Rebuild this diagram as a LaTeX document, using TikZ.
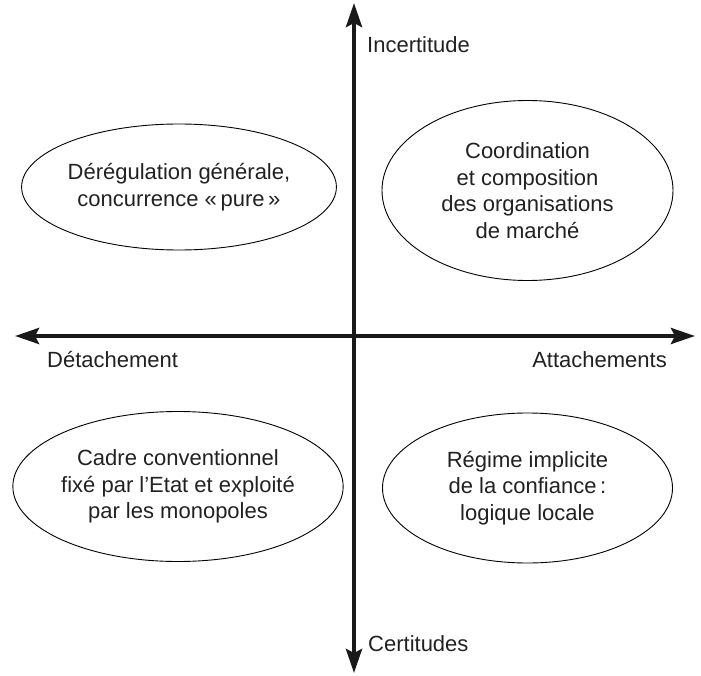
\documentclass[tikz,border=0pt]{standalone}
\usepackage{fontspec}
\setmainfont{Liberation Sans}
\usetikzlibrary{arrows.meta,shapes.geometric}
\begin{document}
\begin{tikzpicture}[x=1pt,y=-1pt,
  axis/.style={line width=4pt, color=black!90,
    {Stealth[length=24pt,width=16pt,inset=4pt]}-{Stealth[length=24pt,width=16pt,inset=4pt]}},
  zone/.style={draw, ellipse, line width=0.9pt, align=center, inner sep=0pt,
    font=\fontsize{22}{26.5}\selectfont, text=black!87},
  lbl/.style={inner sep=0pt, font=\fontsize{22}{26}\selectfont, text=black!87}]
\useasboundingbox (0,0) rectangle (701,676);
% axes
\coordinate (ytop) at (354,3);
\coordinate (ybot) at (354,673);
\coordinate (xleft) at (15,336);
\coordinate (xright) at (695,336);
\draw[axis] (ybot) -- (ytop);
\draw[axis] (xleft) -- (xright);
% axis labels
\node[lbl, anchor=base west] (incert) at (367,53) {Incertitude};
\node[lbl, anchor=base west] (cert) at (368,651) {Certitudes};
\node[lbl, anchor=base west] (detach) at (47,367) {Détachement};
\node[lbl, anchor=base east] (attach) at (667,367) {Attachements};
% zones
\node[zone, minimum width=292pt, minimum height=126pt] (tl) at (179,187)
  {Dérégulation générale,\\concurrence «\,pure\,»};
\node[zone, minimum width=291pt, minimum height=180pt] (tr) at (527.5,190.5)
  {Coordination\\et composition\\des organisations\\de marché};
\node[zone, minimum width=290pt, minimum height=150pt] (bl) at (178,486.5)
  {Cadre conventionnel\\fixé par l’Etat et exploité\\par les monopoles};
\node[zone, minimum width=290pt, minimum height=150pt] (br) at (527.5,488)
  {Régime implicite\\de la confiance\,:\\logique locale};
\end{tikzpicture}
\end{document}
